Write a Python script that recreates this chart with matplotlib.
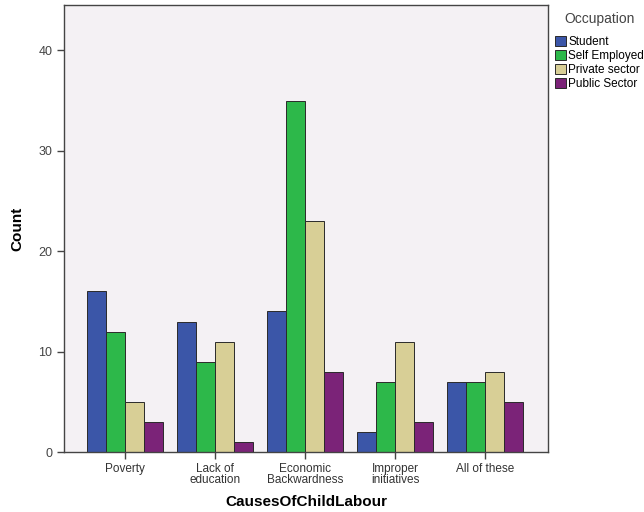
import numpy as np
import matplotlib
matplotlib.use("Agg")
import matplotlib.pyplot as plt

plt.rcParams['font.family'] = ['Liberation Sans', 'DejaVu Sans']

causes = ['Poverty', 'Lack of\neducation', 'Economic\nBackwardness', 'Improper\ninitiatives', 'All of these']
occupations = ['Student', 'Self Employed', 'Private sector', 'Public Sector']
student = [16, 13, 14, 2, 7]
self_employed = [12, 9, 35, 7, 7]
private_sector = [5, 11, 23, 11, 8]
public_sector = [3, 1, 8, 3, 5]
colors = ['#3B56A8', '#2DB84A', '#D8CF96', '#7B2378']

series = [student, self_employed, private_sector, public_sector]

fig = plt.figure(figsize=(6.44, 5.12), dpi=100)
ax = fig.add_axes([0.0994, 0.117, 0.752, 0.873])
ax.set_facecolor('#F4F1F4')

x = np.arange(len(causes))
w = 0.21
for i, (vals, name, c) in enumerate(zip(series, occupations, colors)):
    ax.bar(x + (i - 1.5) * w, vals, width=w, color=c, edgecolor='#2a2a2a',
           linewidth=0.7, label=name)

ax.set_xlim(-0.68, 4.7)
ax.set_ylim(0, 44.5)
ax.set_yticks([0, 10, 20, 30, 40])
ax.set_xticks(x)
ax.set_xticklabels(causes, fontsize=8.5, color='#333333', linespacing=0.9)
ax.tick_params(axis='y', labelsize=9, labelcolor='#444444', length=5, width=1, color='#444444')
ax.tick_params(axis='x', length=5, width=1, color='#444444', pad=3)
for s in ax.spines.values():
    s.set_color('#444444')
    s.set_linewidth(1)

ax.set_xlabel('CausesOfChildLabour', fontsize=11, fontweight='bold', labelpad=6)
ax.set_ylabel('Count', fontsize=11, fontweight='bold', labelpad=10)

leg = ax.legend(title='Occupation', loc='upper left', bbox_to_anchor=(1.0, 1.0),
                frameon=False, fontsize=8.5, title_fontsize=10,
                handlelength=0.9, handleheight=0.9, handletextpad=0.2,
                labelspacing=0.18, borderaxespad=0.1, borderpad=0.5)
leg.get_title().set_color('#444444')
leg._legend_box.sep = 7

fig.savefig('out.png', dpi=100)
